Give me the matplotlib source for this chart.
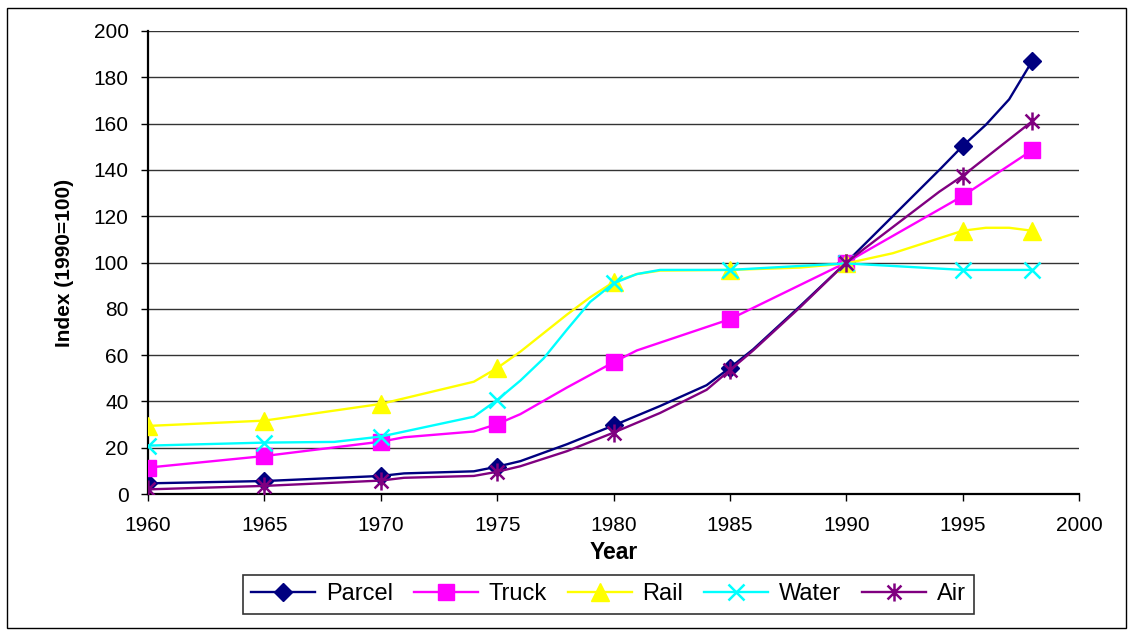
import matplotlib
matplotlib.use("Agg")
import matplotlib.pyplot as plt
from matplotlib.path import Path
from matplotlib.patches import Rectangle

plt.rcParams['font.family'] = ['Liberation Sans', 'DejaVu Sans']

marker_years = [1960, 1965, 1970, 1975, 1980, 1985, 1990, 1995, 1998]

parcel_years = [1960, 1965, 1970, 1971, 1974, 1975, 1976, 1978, 1980, 1982, 1984, 1985, 1986, 1988, 1990, 1992, 1994, 1995, 1996, 1997, 1998]
parcel_vals = [4.6, 5.6, 7.8, 8.9, 9.8, 11.8, 14.2, 21.5, 29.6, 38, 47, 54.5, 62.5, 81, 100, 120, 140, 150.3, 159.5, 170.5, 187.2]

truck_years = [1960, 1965, 1970, 1971, 1974, 1975, 1976, 1978, 1980, 1981, 1985, 1990, 1995, 1998]
truck_vals = [11.4, 16.4, 22.6, 24.5, 27, 30.2, 34.5, 46, 56.9, 62, 75.5, 100, 128.7, 148.6]

rail_years = [1960, 1965, 1970, 1974, 1975, 1976, 1977, 1978, 1979, 1980, 1981, 1982, 1985, 1988, 1990, 1992, 1995, 1996, 1997, 1998]
rail_vals = [29.4, 31.7, 38.9, 48.5, 54.4, 61.5, 69.5, 77.5, 85, 91.5, 95, 96.5, 96.8, 97.8, 99.6, 104, 113.7, 115, 115, 113.7]

water_years = [1960, 1965, 1968, 1970, 1974, 1975, 1976, 1977, 1978, 1979, 1980, 1981, 1982, 1985, 1988, 1990, 1992, 1995, 1998]
water_vals = [20.9, 22.2, 22.5, 24.8, 33.4, 40.6, 49, 58.6, 71, 83, 91, 95, 96.8, 96.8, 98.5, 99.6, 98.5, 96.8, 96.8]

air_years = [1960, 1965, 1970, 1971, 1974, 1975, 1976, 1978, 1980, 1982, 1984, 1985, 1986, 1988, 1990, 1994, 1995, 1998]
air_vals = [2.0, 3.5, 5.8, 7.0, 7.8, 9.6, 12, 18.5, 26.5, 35, 45, 53.5, 62, 80.5, 100, 130.6, 137.4, 161.1]

# Excel-style asterisk marker: X plus vertical bar
star = Path([(-1, -1), (1, 1), (-1, 1), (1, -1), (0, -1.3), (0, 1.3)],
            [Path.MOVETO, Path.LINETO, Path.MOVETO, Path.LINETO, Path.MOVETO, Path.LINETO])

series = [
    ("Parcel", parcel_years, parcel_vals, "#000080", dict(marker='D', ms=9.5, mfc="#000080", mec="#000080")),
    ("Truck", truck_years, truck_vals, "#FF00FF", dict(marker='s', ms=11, mfc="#FF00FF", mec="#FF00FF")),
    ("Rail", rail_years, rail_vals, "#FFFF00", dict(marker='^', ms=13, mfc="#FFFF00", mec="#FFFF00")),
    ("Water", water_years, water_vals, "#00FFFF", dict(marker='x', ms=11.5, mew=1.8, mec="#00FFFF")),
    ("Air", air_years, air_vals, "#800080", dict(marker=star, ms=13, mew=1.8, mec="#800080", mfc='none')),
]

fig = plt.figure(figsize=(11.32, 6.35), dpi=100)
ax = fig.add_axes([148/1132, 1-494/635, (1079-148)/1132, (494-31)/635])

for name, yrs, vals, col, mk in series:
    idx = [i for i, y in enumerate(yrs) if y in marker_years]
    ax.plot(yrs, vals, color=col, lw=1.7, markevery=idx, label=name, zorder=3, **mk)

ax.set_xlim(1960, 2000)
ax.set_ylim(0, 200)
ax.set_xticks(range(1960, 2001, 5))
ax.set_yticks(range(0, 201, 20))
ax.yaxis.grid(True, color='#333333', lw=1)
ax.set_axisbelow(True)
for s in ['top', 'right']:
    ax.spines[s].set_visible(False)
for s in ['left', 'bottom']:
    ax.spines[s].set_linewidth(1.6)
    ax.spines[s].set_color('black')
ax.tick_params(axis='both', labelsize=15, direction='out', length=5, width=1, colors='black')
ax.tick_params(axis='y', pad=9)
ax.tick_params(axis='x', pad=11)

ax.set_xlabel("Year", fontsize=16.5, fontweight='bold', labelpad=4)
ax.set_ylabel("Index (1990=100)", fontsize=15, fontweight='bold', labelpad=14)

leg = fig.legend(loc='center', bbox_to_anchor=(608.5/1132, 1-594.5/635), ncol=5,
                 fontsize=17, frameon=True, fancybox=False, edgecolor='black',
                 handlelength=2.7, columnspacing=0.9, handletextpad=0.45, borderpad=0.35)
leg.get_frame().set_linewidth(1.2)

fig.patches.append(Rectangle((7/1132, 1-628/635), (1126-7)/1132, (628-8)/635,
                             transform=fig.transFigure, fill=False, edgecolor='black', lw=1))

fig.savefig("out.png", dpi=100)
